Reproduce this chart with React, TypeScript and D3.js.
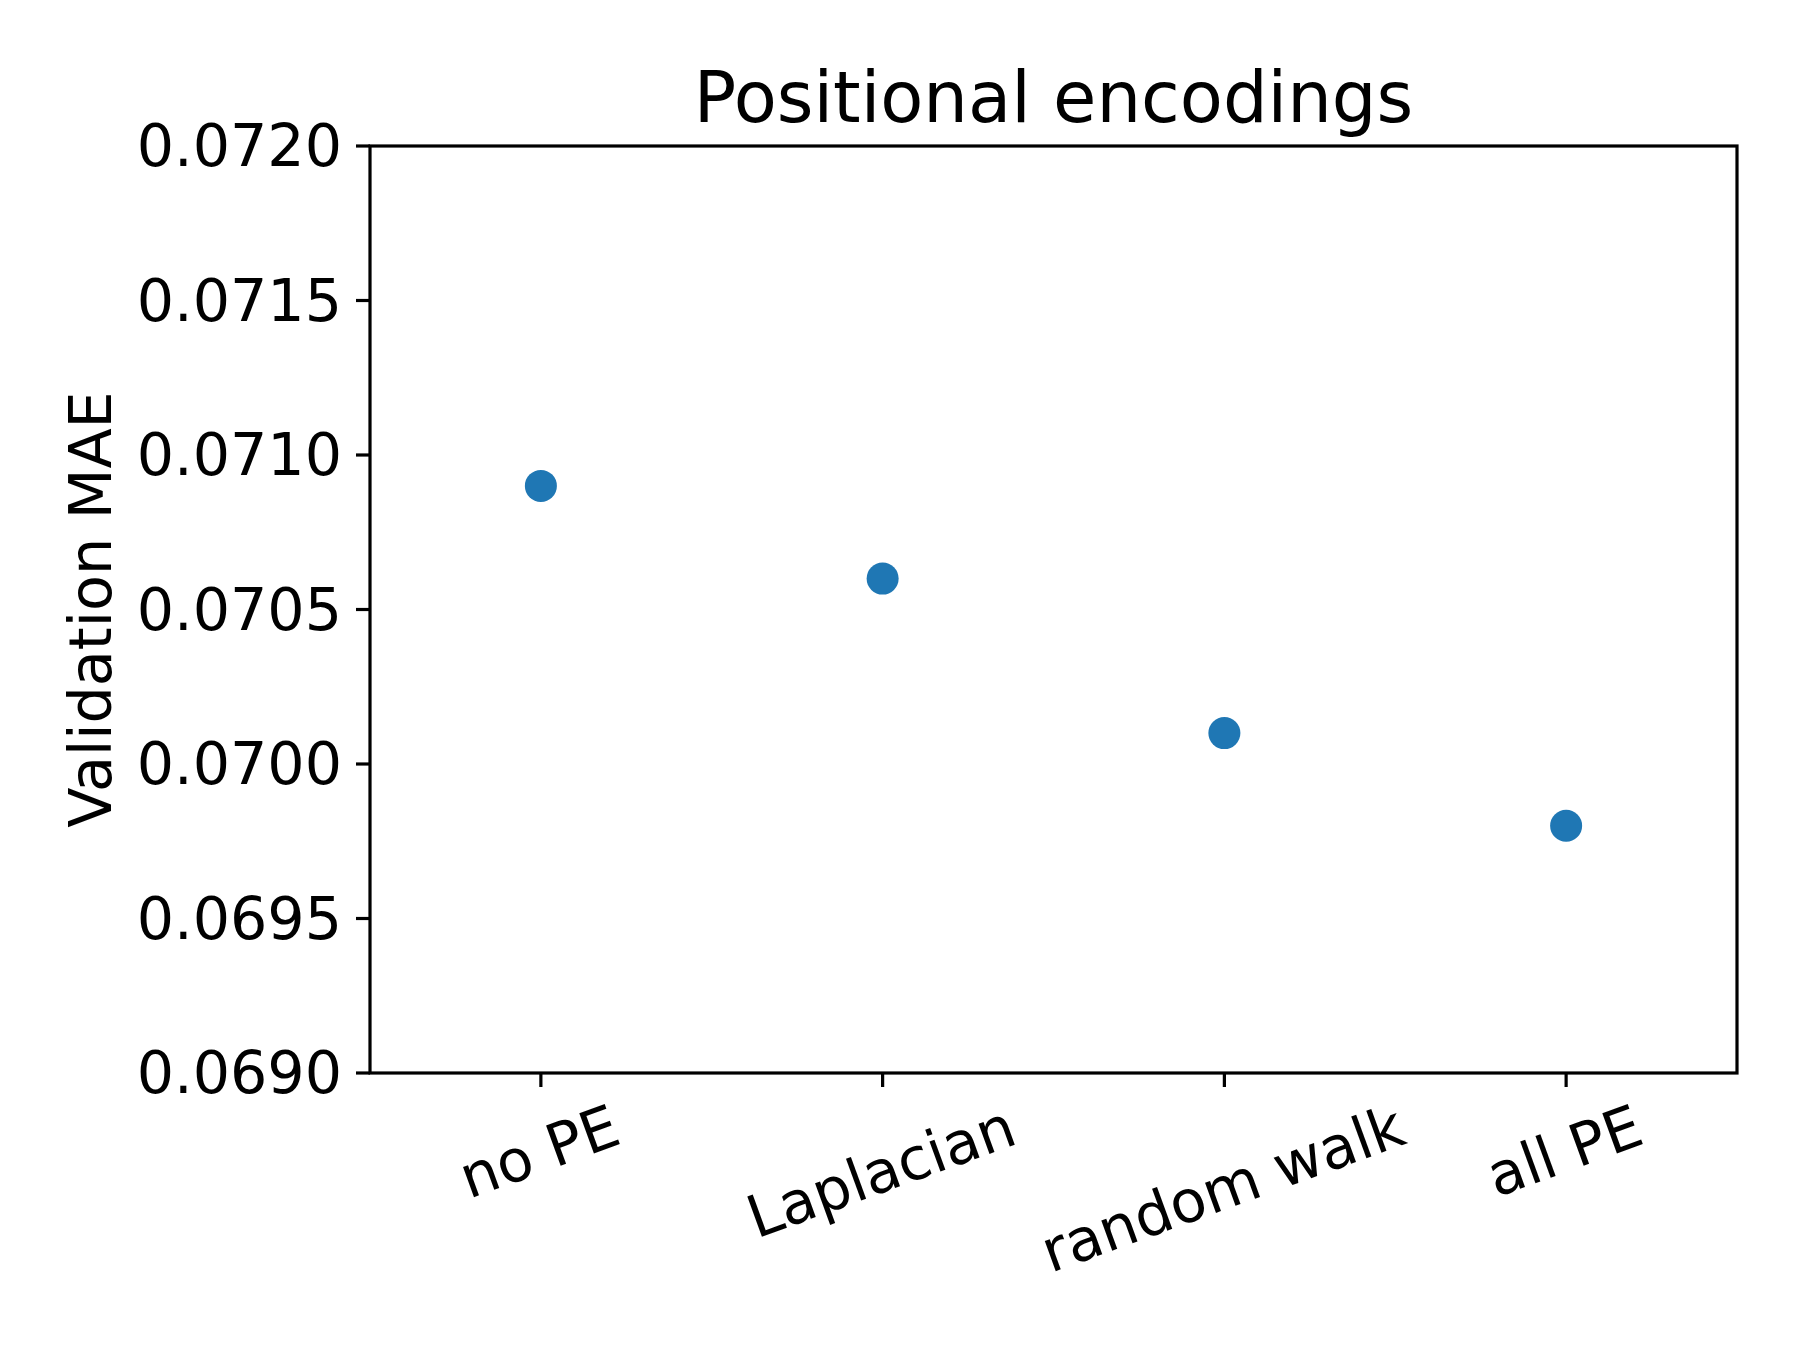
import { useEffect, useRef } from "react";
import * as d3 from "d3";

const categories = ["no PE", "Laplacian", "random walk", "all PE"];
const maeValues = [0.0709, 0.0706, 0.0701, 0.0698];
const yTicks = [0.069, 0.0695, 0.07, 0.0705, 0.071, 0.0715, 0.072];

const W = 1800;
const H = 1350;
const margin = { top: 146, right: 63, bottom: 277, left: 370 };
const FS = 58.7;

const App = () => {
  const svgRef = useRef<SVGSVGElement>(null);

  useEffect(() => {
    const svg = d3.select(svgRef.current);
    svg.selectAll("*").remove();

    const x0 = margin.left;
    const x1 = W - margin.right;
    const y0 = margin.top;
    const y1 = H - margin.bottom;

    const x = d3.scaleLinear().domain([-0.5, categories.length - 0.5]).range([x0, x1]);
    const y = d3.scaleLinear().domain([0.069, 0.072]).range([y1, y0]);

    const g = svg.append("g").attr("font-family", "DejaVu Sans").attr("fill", "#000");

    // points
    g.selectAll("circle")
      .data(maeValues)
      .enter()
      .append("circle")
      .attr("cx", (d, i) => x(i))
      .attr("cy", (d) => y(d))
      .attr("r", 16)
      .attr("fill", "#1f77b4");

    // frame
    g.append("rect")
      .attr("x", x0)
      .attr("y", y0)
      .attr("width", x1 - x0)
      .attr("height", y1 - y0)
      .attr("fill", "none")
      .attr("stroke", "#000")
      .attr("stroke-width", 3.2);

    // y ticks
    yTicks.forEach((t) => {
      g.append("line")
        .attr("x1", x0 - 14)
        .attr("x2", x0)
        .attr("y1", y(t))
        .attr("y2", y(t))
        .attr("stroke", "#000")
        .attr("stroke-width", 3.2);
      g.append("text")
        .attr("x", x0 - 28)
        .attr("y", y(t))
        .attr("text-anchor", "end")
        .attr("dominant-baseline", "central")
        .attr("font-size", FS)
        .text(d3.format(".4f")(t));
    });

    // x ticks + rotated labels
    const h = FS * 0.996;
    const desc = FS * 0.236;
    const ang = (20 * Math.PI) / 180;
    categories.forEach((c, i) => {
      g.append("line")
        .attr("x1", x(i))
        .attr("x2", x(i))
        .attr("y1", y1)
        .attr("y2", y1 + 14)
        .attr("stroke", "#000")
        .attr("stroke-width", 3.2);
      const txt = g.append("text")
        .attr("text-anchor", "middle")
        .attr("font-size", FS)
        .text(c);
      const w = (txt.node() as SVGTextElement).getComputedTextLength();
      const bh = w * Math.sin(ang) + h * Math.cos(ang);
      const cy = y1 + 28 + bh / 2;
      txt
        .attr("transform", `translate(${x(i)},${cy}) rotate(-20)`)
        .attr("y", h / 2 - desc);
    });

    // y label
    g.append("text")
      .attr("transform", `translate(111,${(y0 + y1) / 2}) rotate(-90)`)
      .attr("text-anchor", "middle")
      .attr("font-size", FS)
      .text("Validation MAE");

    // title
    g.append("text")
      .attr("x", (x0 + x1) / 2)
      .attr("y", y0 - 24)
      .attr("text-anchor", "middle")
      .attr("font-size", FS * 1.2)
      .text("Positional encodings");
  }, []);

  return (
    <svg
      ref={svgRef}
      width={W}
      height={H}
      style={{ position: "absolute", left: 0, top: 0, background: "#fff" }}
    ></svg>
  );
};

export default App;
